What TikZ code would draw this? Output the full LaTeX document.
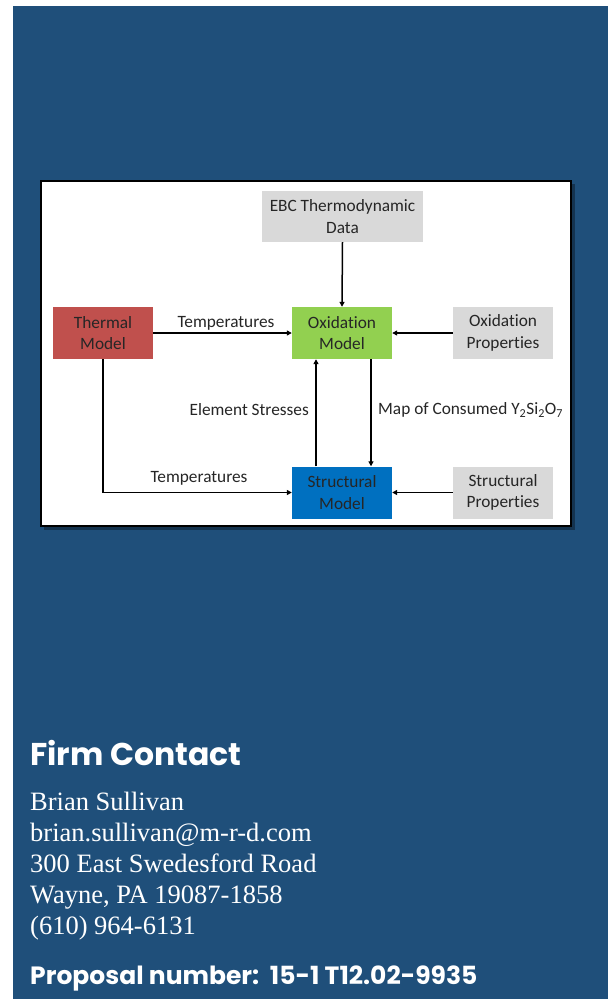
\documentclass[tikz,border=0pt]{standalone}
\usepackage{fontspec}
\setmainfont{Liberation Serif}
\newfontfamily\calib[Ligatures=NoCommon]{Carlito}
\newfontfamily\gothic{Poppins}
\usetikzlibrary{arrows.meta,positioning}
\definecolor{bgblue}{RGB}{31,79,122}
\definecolor{thermred}{RGB}{192,80,77}
\definecolor{oxgreen}{RGB}{146,208,80}
\definecolor{stblue}{RGB}{0,112,192}
\definecolor{boxgray}{RGB}{217,217,217}
\begin{document}
\begin{tikzpicture}[x=1pt,y=-1pt,
  box/.style={minimum width=100pt,minimum height=52pt,inner sep=0pt,align=center,
    font=\calib\fontsize{17.3}{21.5}\selectfont,text=black!85},
  graybox/.style={box,fill=boxgray},
  lbl/.style={font=\calib\fontsize{17.3}{20}\selectfont,text=black!85,inner sep=0pt},
  conn/.style={line width=1.5pt,-{Triangle[length=5pt,width=5pt]}},
  contact/.style={font=\fontsize{26.5}{30}\selectfont,text=white,anchor=base west,inner sep=0pt},
  heading/.style={font=\gothic\bfseries,text=white,anchor=base west,inner sep=0pt}]
\useasboundingbox (0,0) rectangle (608,999);
\fill[white] (0,0) rectangle (608,999);
\fill[bgblue] (13,6) rectangle (608,999);
% panel with shadow
\fill[black,opacity=0.35] (44,184) rectangle (575,530);
\node[draw=black,line width=2pt,fill=white,minimum width=530pt,minimum height=345pt,inner sep=0pt,anchor=north west] (panel) at (40,180) {};
% boxes
\node[graybox,minimum width=161pt,minimum height=51pt] (ebc) at (342.5,216.5) {EBC Thermodynamic\\Data};
\node[box,fill=thermred] (thermal) at (103,333) {Thermal\\Model};
\node[box,fill=oxgreen] (oxm) at (342,333) {Oxidation\\Model};
\node[graybox] (oxp) at (503,333) {Oxidation\\Properties};
\node[box,fill=stblue] (stm) at (342,492.5) {Structural\\Model};
\node[graybox] (stp) at (503,492.5) {Structural\\Properties};
% connectors
\draw[conn] (ebc.south) -- (oxm.north);
\draw[conn] (thermal.east) -- (oxm.west);
\draw[conn] (oxp.west) -- (oxm.east);
\draw[conn] (stp.west) -- (stm.east);
\draw[conn] (stm.north -| 316,0) -- (oxm.south -| 316,0);
\draw[conn] (oxm.south -| 371,0) -- (stm.north -| 371,0);
\draw[conn] (thermal.south) |- (stm.west);
% labels
\node[lbl] (t1) at (226,323) {Temperatures};
\node[lbl] (t2) at (199,478) {Temperatures};
\node[lbl,anchor=east] (es) at (309,410) {Element Stresses};
\node[lbl,anchor=west] (map) at (378,410) {Map of Consumed Y\textsubscript{2}Si\textsubscript{2}O\textsubscript{7}};
% contact text
\node[heading,font=\gothic\bfseries\fontsize{31.5}{35}\selectfont] (firm) at (30,765) {Firm Contact};
\node[contact] (l1) at (30,810) {Brian Sullivan};
\node[contact] (l2) at (30,841) {brian.sullivan@m-r-d.com};
\node[contact] (l3) at (30,872) {300 East Swedesford Road};
\node[contact] (l4) at (30,903) {Wayne, PA 19087-1858};
\node[contact] (l5) at (30,934) {(610) 964-6131};
\node[heading,font=\gothic\bfseries\fontsize{25}{28}\selectfont] (prop) at (30,984) {Proposal number:\ \ 15-1 T12.02-9935};
\end{tikzpicture}
\end{document}
